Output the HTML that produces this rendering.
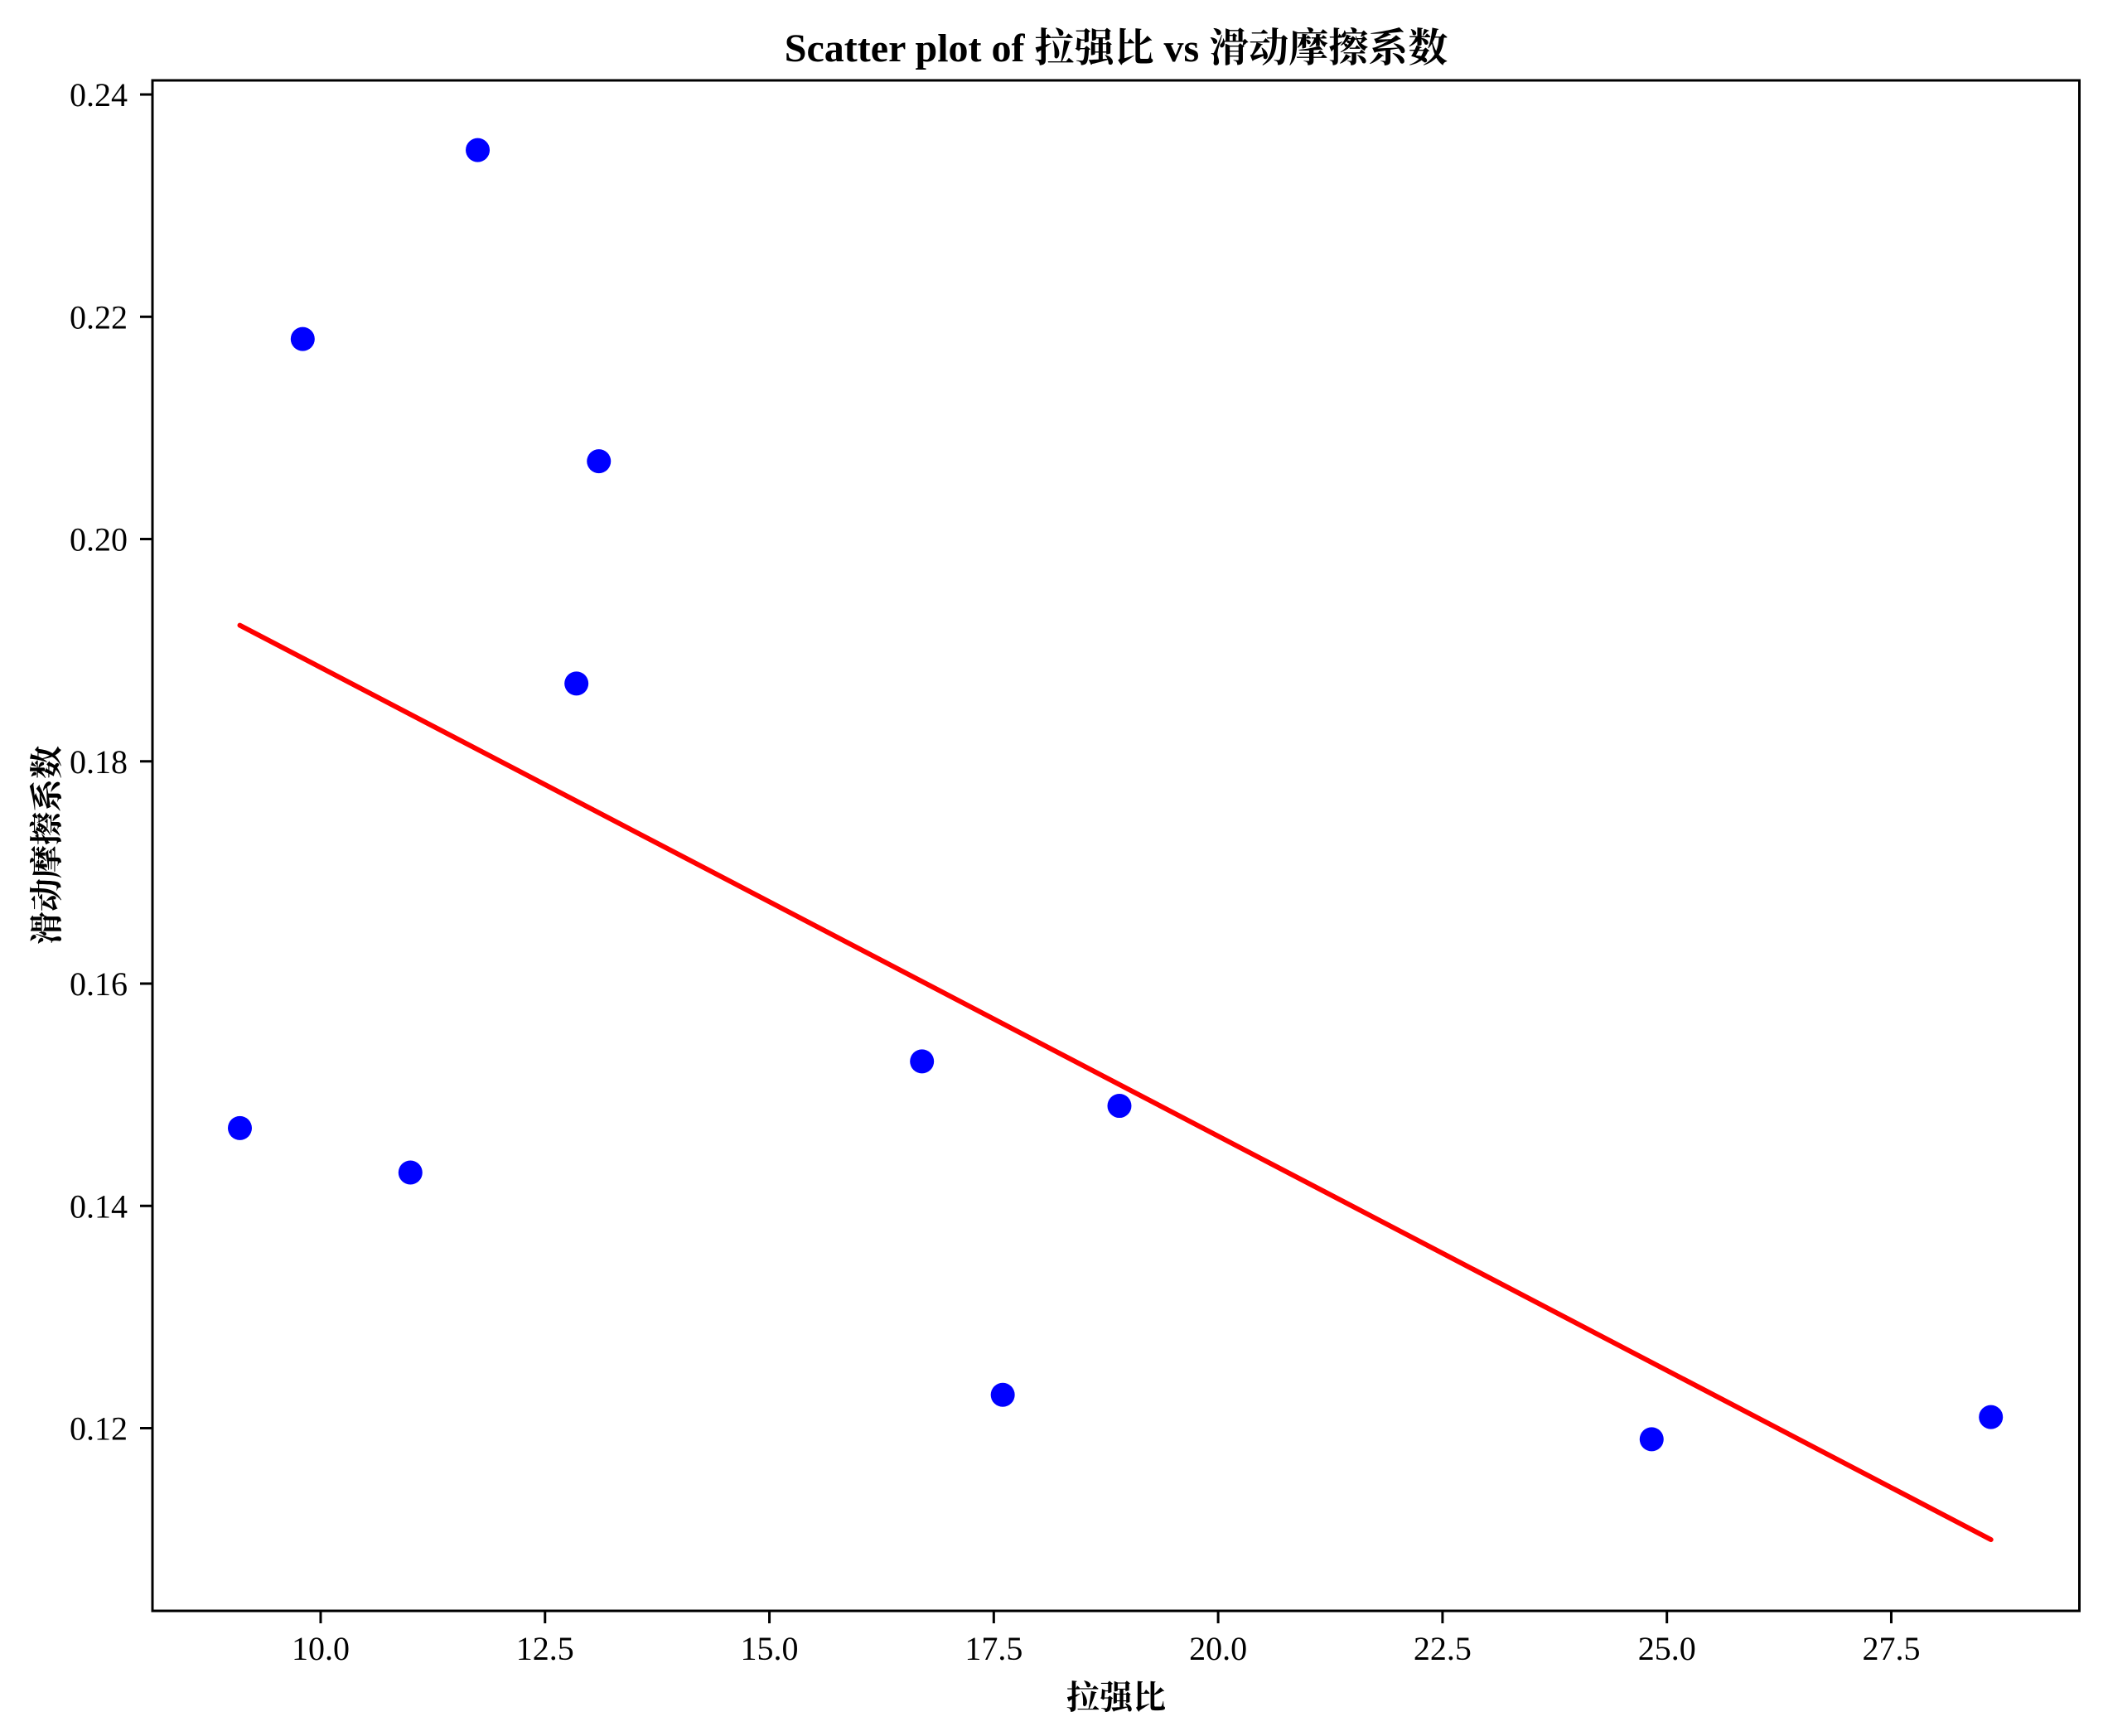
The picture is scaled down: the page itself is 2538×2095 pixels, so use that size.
<!DOCTYPE html>
<html><head><meta charset="utf-8"><style>
html,body{margin:0;padding:0;background:#fff;}
svg{display:block;}
text{font-family:"Liberation Serif","Noto Serif CJK SC","Noto Sans CJK SC",serif;fill:#000;}
</style></head><body>
<svg id="chart" width="2538" height="2095" viewBox="0 0 2538 2095" xmlns="http://www.w3.org/2000/svg">
<rect x="0" y="0" width="2538" height="2095" fill="#fff"/>
<text x="1347" y="74" font-size="48" font-weight="bold" text-anchor="middle">Scatter plot of 拉强比 vs 滑动摩擦系数</text>
<g id="plot"></g>
<rect x="184" y="97" width="2325.5" height="1847" fill="none" stroke="#000" stroke-width="3"/>
<text x="1347" y="2062" font-size="40" font-weight="bold" text-anchor="middle">拉强比</text>
<text x="0" y="0" font-size="40" font-weight="bold" text-anchor="middle" transform="translate(70,1020) rotate(-90)">滑动摩擦系数</text>
</svg>
<script>
const xData = [9.1, 9.8, 11.0, 11.75, 12.85, 13.1, 16.7, 17.6, 18.9, 24.83, 28.61];
const yData = [0.147, 0.218, 0.143, 0.235, 0.187, 0.207, 0.153, 0.123, 0.149, 0.119, 0.121];
const xTicks = [10.0, 12.5, 15.0, 17.5, 20.0, 22.5, 25.0, 27.5];
const xTickLabels = ["10.0","12.5","15.0","17.5","20.0","22.5","25.0","27.5"];
const yTicks = [0.12, 0.14, 0.16, 0.18, 0.20, 0.22, 0.24];
const yTickLabels = ["0.12","0.14","0.16","0.18","0.20","0.22","0.24"];

const L=184, R=2509.5, T=97, B=1944;
const xMin=8.126, xMax=29.596, yMin=0.10356, yMax=0.24127;
const sx = v => L + (v - xMin) / (xMax - xMin) * (R - L);
const sy = v => B - (v - yMin) / (yMax - yMin) * (B - T);
const NS="http://www.w3.org/2000/svg";
const g=document.getElementById('plot');
function mk(tag, attrs){const e=document.createElementNS(NS,tag);for(const k in attrs)e.setAttribute(k,attrs[k]);return e;}

xTicks.forEach((v,i)=>{
  const t=mk('line',{x1:sx(v),x2:sx(v),y1:B,y2:B+15,stroke:'#000','stroke-width':3});
  
  
  g.appendChild(t);
  const lb=mk('text',{x:sx(v),y:B+59,'font-size':40,'text-anchor':'middle'});
  
  
  lb.textContent=xTickLabels[i];g.appendChild(lb);
});
yTicks.forEach((v,i)=>{
  const t=mk('line',{x1:L-15,x2:L,y1:sy(v),y2:sy(v),stroke:'#000','stroke-width':3});
  
  
  g.appendChild(t);
  const lb=mk('text',{x:L-30,y:sy(v)+14,'font-size':40,'text-anchor':'end'});
  
  
  lb.textContent=yTickLabels[i];g.appendChild(lb);
});

const n=xData.length;
const mx=xData.reduce((a,b)=>a+b,0)/n, my=yData.reduce((a,b)=>a+b,0)/n;
let sxy=0,sxx=0;for(let i=0;i<n;i++){sxy+=(xData[i]-mx)*(yData[i]-my);sxx+=(xData[i]-mx)**2;}
const slope=sxy/sxx, icpt=my-slope*mx;
const x0=Math.min(...xData), x1=Math.max(...xData);
const fit=mk('line',{x1:sx(x0),y1:sy(icpt+slope*x0),x2:sx(x1),y2:sy(icpt+slope*x1),stroke:'#ff0000','stroke-width':6,'stroke-linecap':'round'});


g.appendChild(fit);

for(let i=0;i<n;i++){
  const c=mk('circle',{cx:sx(xData[i]),cy:sy(yData[i]),r:14.5,fill:'#0000ff'});
  
  
  g.appendChild(c);
}
</script>
</body></html>
